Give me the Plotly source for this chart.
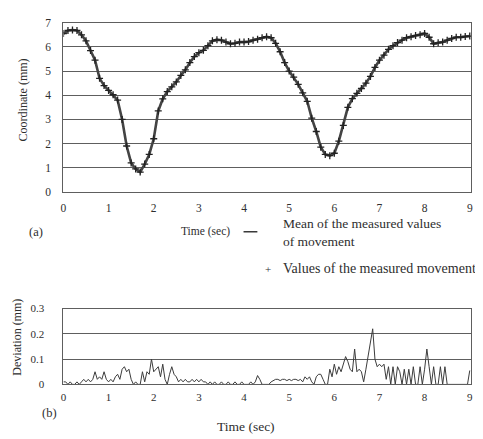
import plotly.graph_objects as go

# ---- data ----
coord_step = 0.1
coordinate_mm = [
    6.55, 6.68, 6.70, 6.68, 6.50, 6.25, 5.85, 5.45, 4.70, 4.40,
    4.20, 4.02, 3.80, 3.00, 1.90, 1.20, 0.95, 0.82, 1.15, 1.55,
    2.20, 3.35, 3.85, 4.15, 4.35, 4.55, 4.82, 5.05, 5.35, 5.60,
    5.76, 5.86, 6.05, 6.25, 6.30, 6.28, 6.20, 6.13, 6.15, 6.20,
    6.20, 6.22, 6.28, 6.32, 6.38, 6.42, 6.38, 6.15, 5.80, 5.35,
    5.00, 4.75, 4.45, 4.10, 3.75, 3.05, 2.50, 1.85, 1.55, 1.50,
    1.60, 2.10, 2.75, 3.50, 3.86, 4.08, 4.28, 4.50, 4.78, 5.15,
    5.45, 5.66, 5.90, 6.05, 6.18, 6.28, 6.38, 6.42, 6.47, 6.50,
    6.56, 6.40, 6.13, 6.17, 6.20, 6.28, 6.35, 6.40, 6.40, 6.43,
    6.45,
]
coord_time = [round(i * coord_step, 2) for i in range(len(coordinate_mm))]

dev_step = 0.05
deviation_mm = [
    0.01, 0.01, 0.00, 0.01, 0.00, 0.00, 0.01, 0.00, 0.01, 0.02, 0.01, 0.02, 0.01, 0.02, 0.05, 0.02, 0.03, 0.02, 0.05, 0.02,
    0.01, 0.02, 0.01, 0.03, 0.04, 0.02, 0.06, 0.07, 0.05, 0.06, 0.02, 0.00, 0.01, 0.00, 0.00, 0.05, 0.01, 0.05, 0.04, 0.10,
    0.05, 0.06, 0.07, 0.03, 0.08, 0.02, 0.00, 0.04, 0.07, 0.04, 0.03, 0.01, 0.02, 0.01, 0.02, 0.01, 0.01, 0.02, 0.01, 0.02,
    0.01, 0.02, 0.01, 0.01, 0.00, 0.01, 0.00, 0.01, 0.00, 0.00, 0.01, 0.00, 0.00, 0.01, 0.00, 0.00, 0.01, 0.00, 0.00, 0.01,
    0.00, 0.00, 0.00, 0.01, 0.00, 0.01, 0.035, 0.02, 0.00, 0.00, 0.00, 0.00, 0.01, 0.015, 0.02, 0.02, 0.015, 0.02, 0.02, 0.015,
    0.02, 0.015, 0.02, 0.02, 0.015, 0.02, 0.01, 0.03, 0.02, 0.03, 0.01, 0.00, 0.03, 0.04, 0.04, 0.02, 0.00, 0.00, 0.06, 0.03,
    0.08, 0.04, 0.07, 0.05, 0.08, 0.11, 0.09, 0.06, 0.05, 0.14, 0.05, 0.06, 0.05, 0.01, 0.06, 0.12, 0.17, 0.22, 0.10, 0.07,
    0.08, 0.07, 0.08, 0.02, 0.07, 0.00, 0.07, 0.00, 0.07, 0.05, 0.00, 0.06, 0.00, 0.06, 0.00, 0.07, 0.00, 0.00, 0.07, 0.00,
    0.06, 0.14, 0.07, 0.00, 0.07, 0.00, 0.00, 0.07, 0.00, 0.07, 0.00, 0.00, 0.00, 0.00, 0.00, 0.00, 0.00, 0.00, 0.00, 0.00,
    0.055,
]
dev_time = [round(i * dev_step, 2) for i in range(len(deviation_mm))]

x_ticks = [0, 1, 2, 3, 4, 5, 6, 7, 8, 9]
y1_ticks = [0, 1, 2, 3, 4, 5, 6, 7]
y2_ticks = [0, 0.1, 0.2, 0.3]
y2_tick_labels = ["0", "0.1", "0.2", "0.3"]

# ---- geometry helpers (screen pixels -> paper) ----
# the page body adds an 8px margin around the figure
OFF = 8
W, H = 483 - OFF, 439 - OFF
def px(x):
    return (x - OFF) / W
def py(y):
    return 1 - (y - OFF) / H

FONT = "Liberation Serif"
TXT = "#2e2e2e"
GRID = "#5e5e5e"
CLEAR = "rgba(0,0,0,0)"

fig = go.Figure()

fig.add_trace(go.Scatter(
    x=coord_time, y=coordinate_mm, mode="lines",
    line=dict(color="#444444", width=2.6),
    name="Mean of the measured values of movement",
    xaxis="x", yaxis="y", showlegend=False, hoverinfo="skip",
))
fig.add_trace(go.Scatter(
    x=coord_time, y=coordinate_mm, mode="markers",
    marker=dict(symbol="cross-thin", size=5, line=dict(color="#222222", width=1.3)),
    name="Values of the measured movement",
    xaxis="x", yaxis="y", showlegend=False,
))
fig.add_trace(go.Scatter(
    x=dev_time, y=deviation_mm, mode="lines",
    line=dict(color="#3c3c3c", width=1),
    name="Deviation",
    xaxis="x2", yaxis="y2", showlegend=False,
))

def axis_common(size=11):
    return dict(
        showline=True, linecolor=GRID, linewidth=1.2, mirror=True,
        zeroline=False,
        tickfont=dict(family=FONT, size=size, color=TXT),
    )

fig.update_layout(
    width=W, height=H,
    margin=dict(l=0, r=0, t=0, b=0),
    paper_bgcolor="white", plot_bgcolor="white",
    font=dict(family=FONT, color=TXT),
    xaxis=dict(domain=[px(61), px(473)], range=[0, 9.03], anchor="y",
               tickvals=x_ticks, showgrid=False, ticks="",
               ticklabelstandoff=5, **axis_common(11.5)),
    yaxis=dict(domain=[py(191), py(17)], range=[0, 7], anchor="x",
               tickvals=y1_ticks, showgrid=True, gridcolor=GRID, gridwidth=1,
               ticks="outside", ticklen=9, tickcolor=CLEAR, **axis_common(11.5)),
    xaxis2=dict(domain=[px(61), px(473)], range=[0, 9.03], anchor="y2",
                tickvals=x_ticks, showgrid=False, ticks="",
                ticklabelstandoff=2, **axis_common(11)),
    yaxis2=dict(domain=[py(389), py(311)], range=[0, 0.3], anchor="x2",
                tickvals=y2_ticks, ticktext=y2_tick_labels,
                showgrid=True, gridcolor=GRID, gridwidth=1,
                ticks="outside", ticklen=16, tickcolor=CLEAR, **axis_common(11)),
)

def note(x, y, text, size=11, xanchor="center", angle=0, align="center"):
    fig.add_annotation(x=px(x), y=py(y), xref="paper", yref="paper",
                       text=text, showarrow=False, textangle=angle,
                       xanchor=xanchor, yanchor="middle", align=align,
                       font=dict(family=FONT, size=size, color=TXT))

note(20, 96, "Coordinate (mm)", size=12, angle=-90)
note(14, 340, "Deviation (mm)", size=12, angle=-90)
note(205, 232, "Time (sec)", size=11.5)
note(245, 432, "Time (sec)", size=13.5)
note(33, 232, "(a)", size=12.5)
note(47, 418, "(b)", size=12.5)

# legend drawn by hand
fig.add_shape(type="line", xref="paper", yref="paper",
              x0=px(243), x1=px(257), y0=py(232), y1=py(232),
              line=dict(color="#3a3a3a", width=1.5))
note(281, 233, "Mean of the measured values<br>of movement", size=13.5,
     xanchor="left", align="left")
note(268, 270, "+", size=11)
note(281, 270, "Values of the measured movement", size=14, xanchor="left")

fig.write_html("out.html")
